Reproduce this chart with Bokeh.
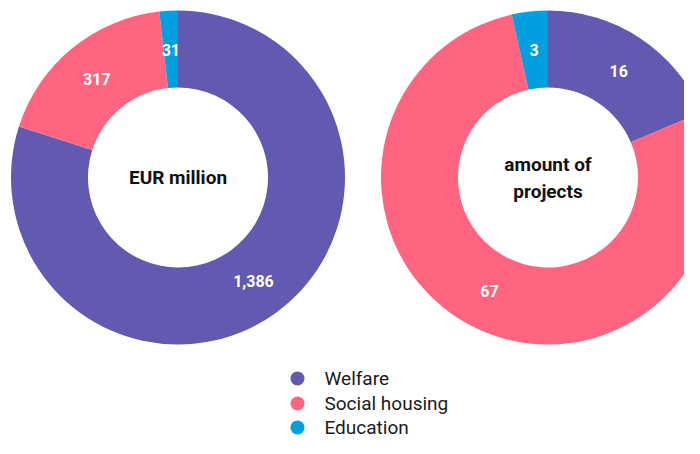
import numpy as np
from bokeh.plotting import figure
from bokeh.models import Range1d, ColumnDataSource
from bokeh.core.properties import value
from bokeh.embed import file_html
from bokeh.resources import INLINE

# ---- data ----
categories = ["Welfare", "Social housing", "Education"]
eur_million = [1386, 317, 31]
projects = [16, 67, 3]
eur_labels = ["1,386", "317", "31"]
project_labels = ["16", "67", "3"]
center_eur = ["EUR million"]
center_projects = ["amount of", "projects"]
colors = ["#6259B0", "#FF6580", "#00A0E0"]

FONT = "Roboto"
W, H = 684, 438


def py(y):  # picture y (downwards) -> data y (upwards)
    return H - y


p = figure(width=W, height=H, x_range=Range1d(0, W), y_range=Range1d(0, H),
           output_backend="svg", toolbar_location=None, min_border=0,
           x_axis_type=None, y_axis_type=None)
p.grid.visible = False
p.outline_line_color = None

R_OUT, R_IN = 167, 90
R_LAB = 128


def donut(cx, cy, vals, labels, titles):
    vals = np.array(vals, dtype=float)
    frac = vals / vals.sum()
    cum = np.concatenate([[0], np.cumsum(frac)])
    start = np.pi / 2 - cum[:-1] * 2 * np.pi
    end = np.pi / 2 - cum[1:] * 2 * np.pi
    src = ColumnDataSource(dict(start=start, end=end, color=colors,
                                x=[cx] * len(vals), y=[cy] * len(vals)))
    p.annular_wedge(x="x", y="y", inner_radius=R_IN, outer_radius=R_OUT,
                    start_angle="start", end_angle="end", direction="clock",
                    color="color", line_color=None, source=src)
    mid = (start + end) / 2
    lx = cx + R_LAB * np.cos(mid)
    ly = cy + R_LAB * np.sin(mid)
    p.text(x=lx, y=ly, text=labels, text_color="white", text_font=value(FONT),
           text_font_size="16px", text_font_style="bold",
           text_align="center", text_baseline="middle")
    n = len(titles)
    ty = [cy + (n - 1) * 13.5 - i * 27 for i in range(n)]
    p.text(x=[cx] * n, y=ty, text=titles, text_color="#111111", text_font=value(FONT),
           text_font_size="19px", text_font_style="bold",
           text_align="center", text_baseline="middle")


donut(177.5, py(177), eur_million, eur_labels, center_eur)
donut(547.5, py(177), projects, project_labels, center_projects)

# legend
leg_y = [py(378), py(403), py(427)]
p.scatter(x=[297] * 3, y=leg_y, size=14, color=colors, line_color=None)
p.text(x=[324] * 3, y=leg_y, text=categories, text_color="#1a1a1a", text_font=value(FONT),
       text_font_size="19px", text_align="left", text_baseline="middle")

open("out.html", "w").write(file_html(p, INLINE))
